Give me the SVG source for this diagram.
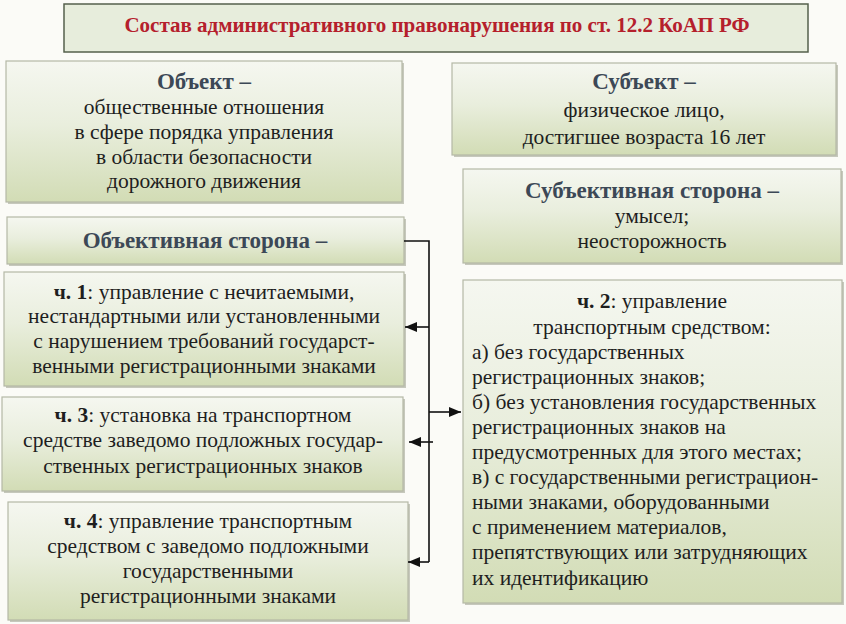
<svg xmlns="http://www.w3.org/2000/svg" width="846" height="624" viewBox="0 0 846 624">
<defs>
<linearGradient id="g" x1="0" y1="0" x2="0" y2="1">
<stop offset="0" stop-color="#f5f7f0"/>
<stop offset="0.45" stop-color="#e9eedd"/>
<stop offset="1" stop-color="#d2dcb5"/>
</linearGradient>
<marker id="ah" viewBox="0 0 12 10" refX="12" refY="5" markerWidth="12" markerHeight="10" markerUnits="userSpaceOnUse" orient="auto">
<path d="M0,0 L12,5 L0,10 z" fill="#111"/>
</marker>
<style>
.box{fill:url(#g);stroke:#b4b8a6;stroke-width:1.2}
.sh{fill:#c6c8bc}
text{font-family:"Liberation Serif","Times New Roman","DejaVu Serif",serif;font-size:21.5px;fill:#1e1e1e}
.c{text-anchor:middle}
.h{font-weight:bold;fill:#3c4856;font-size:23px}
.b{font-weight:bold}
.t{font-weight:bold;fill:#b5202c;font-size:21px}
.ln{stroke:#111;stroke-width:1.6;fill:none}
</style>
</defs>
<rect width="846" height="624" fill="#fbfbf7"/>

<g id="title">
<rect x="64" y="4" width="744" height="48" fill="#e7eddc" stroke="#55604c" stroke-width="1.5"/>
<text class="t c" x="437" y="32" font-family="Liberation Serif, serif">Состав административного правонарушения по ст. 12.2 КоАП РФ</text>
</g>

<g id="object">
<rect class="sh" x="8" y="63" width="396" height="141"/>
<rect class="box" x="6" y="61" width="396" height="141"/>
<text class="c" font-family="Liberation Serif, serif"><tspan class="h" x="204" y="89">Объект –</tspan><tspan x="204" y="114">общественные отношения</tspan><tspan x="204" y="139">в сфере порядка управления</tspan><tspan x="204" y="164">в области безопасности</tspan><tspan x="204" y="188">дорожного движения</tspan></text>
</g>

<g id="subject">
<rect class="sh" x="454" y="65" width="384" height="92"/>
<rect class="box" x="452" y="63" width="384" height="92"/>
<text class="c" font-family="Liberation Serif, serif"><tspan class="h" x="644" y="89">Субъект –</tspan><tspan x="644" y="117">физическое лицо,</tspan><tspan x="644" y="144">достигшее возраста 16 лет</tspan></text>
</g>

<g id="subjective">
<rect class="sh" x="465" y="171" width="378" height="94"/>
<rect class="box" x="463" y="169" width="378" height="94"/>
<text class="c" font-family="Liberation Serif, serif"><tspan class="h" x="652" y="198">Субъективная сторона –</tspan><tspan x="652" y="223">умысел;</tspan><tspan x="652" y="248">неосторожность</tspan></text>
</g>

<g id="objective">
<rect class="sh" x="9" y="219" width="397" height="47"/>
<rect class="box" x="7" y="217" width="397" height="47"/>
<text class="c h" x="205" y="248" font-family="Liberation Serif, serif">Объективная сторона –</text>
</g>

<g id="part1">
<rect class="sh" x="6" y="274" width="400" height="114"/>
<rect class="box" x="4" y="272" width="400" height="114"/>
<text class="c" font-family="Liberation Serif, serif"><tspan x="204" y="299"><tspan class="b">ч. 1</tspan>: управление с нечитаемыми,</tspan><tspan x="204" y="323">нестандартными или установленными</tspan><tspan x="204" y="348">с нарушением требований  государст-</tspan><tspan x="204" y="373">венными регистрационными знаками</tspan></text>
</g>

<g id="part3">
<rect class="sh" x="4" y="399" width="401" height="94"/>
<rect class="box" x="2" y="397" width="401" height="94"/>
<text class="c" font-family="Liberation Serif, serif"><tspan x="203" y="422"><tspan class="b">ч. 3</tspan>: установка на транспортном</tspan><tspan x="203" y="447">средстве заведомо подложных государ-</tspan><tspan x="203" y="473">ственных регистрационных знаков</tspan></text>
</g>

<g id="part4">
<rect class="sh" x="10" y="504" width="400" height="118"/>
<rect class="box" x="8" y="502" width="400" height="118"/>
<text class="c" font-family="Liberation Serif, serif"><tspan x="208" y="528"><tspan class="b">ч. 4</tspan>: управление транспортным</tspan><tspan x="208" y="553">средством с заведомо подложными</tspan><tspan x="208" y="578">государственными</tspan><tspan x="208" y="603">регистрационными знаками</tspan></text>
</g>

<g id="part2">
<rect class="sh" x="465" y="282" width="379" height="323"/>
<rect class="box" x="463" y="280" width="379" height="323"/>
<text class="c" font-family="Liberation Serif, serif"><tspan x="652" y="308"><tspan class="b">ч. 2</tspan>: управление</tspan><tspan x="652" y="334">транспортным средством:</tspan></text>
<text font-family="Liberation Serif, serif"><tspan x="472" y="359">а) без государственных</tspan><tspan x="472" y="384">регистрационных знаков;</tspan><tspan x="472" y="409">б) без установления государственных</tspan><tspan x="472" y="434">регистрационных знаков на</tspan><tspan x="472" y="459">предусмотренных для этого местах;</tspan><tspan x="472" y="484">в) с государственными регистрацион-</tspan><tspan x="472" y="509">ными знаками, оборудованными</tspan><tspan x="472" y="534">с применением материалов,</tspan><tspan x="472" y="559">препятствующих или затрудняющих</tspan><tspan x="472" y="585">их идентификацию</tspan></text>
</g>

<g id="connectors">
<polyline class="ln" points="404,241 429,241 429,562"/>
<line class="ln" x1="429" y1="327" x2="405" y2="327" marker-end="url(#ah)"/>
<line class="ln" x1="433" y1="442" x2="409" y2="442" marker-end="url(#ah)"/>
<line class="ln" x1="429" y1="562" x2="408" y2="562" marker-end="url(#ah)"/>
<line class="ln" x1="429" y1="412" x2="461" y2="412" marker-end="url(#ah)"/>
</g>
</svg>
